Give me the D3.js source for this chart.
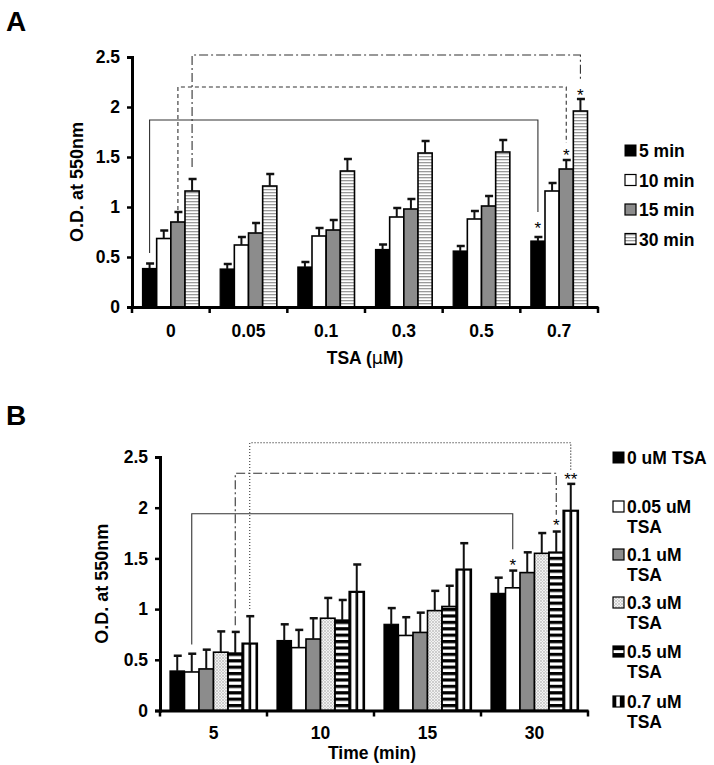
<!DOCTYPE html>
<html><head><meta charset="utf-8">
<script src="https://cdn.jsdelivr.net/npm/d3@7/dist/d3.min.js"></script>
<style>
html,body{margin:0;padding:0;background:#fff;}
svg text{font-family:"Liberation Sans",Arial,sans-serif;}
</style>
</head><body>
<svg id="chart" width="714" height="765"></svg>
<script>
// ---------- DATA ----------
const yTicks = [0, 0.5, 1, 1.5, 2, 2.5];

// Panel A
const aCategories = ["0", "0.05", "0.1", "0.3", "0.5", "0.7"];
const aSeries = ["5 min", "10 min", "15 min", "30 min"];
const aVal5  = [0.385, 0.38, 0.40, 0.575, 0.56, 0.66];
const aVal10 = [0.685, 0.62, 0.71, 0.90, 0.88, 1.16];
const aVal15 = [0.85, 0.74, 0.77, 0.98, 1.01, 1.38];
const aVal30 = [1.16, 1.21, 1.36, 1.54, 1.55, 1.96];
const aErr5  = [0.05, 0.05, 0.05, 0.05, 0.05, 0.04];
const aErr10 = [0.08, 0.08, 0.08, 0.09, 0.08, 0.08];
const aErr15 = [0.10, 0.10, 0.10, 0.10, 0.10, 0.09];
const aErr30 = [0.12, 0.12, 0.12, 0.12, 0.12, 0.12];
// brackets: [series index, from category, to category, top value, left bottom, right bottom]
const aBrackets = [
  [0, 0, 5, 1.87, 0.54, 0.95],
  [2, 0, 5, 2.20, 0.97, 1.64],
  [3, 0, 5, 2.52, 1.40, 2.27]
];
// stars: [category, series, value, label]
const aStars = [[5, 0, 0.82, "*"], [5, 2, 1.55, "*"], [5, 3, 2.15, "*"]];

// Panel B
const bCategories = ["5", "10", "15", "30"];
const bSeries = ["0 uM TSA", "0.05 uM TSA", "0.1 uM TSA", "0.3 uM TSA", "0.5 uM TSA", "0.7 uM TSA"];
const bVal0   = [0.39, 0.69, 0.85, 1.155];
const bVal005 = [0.38, 0.62, 0.74, 1.21];
const bVal01  = [0.41, 0.705, 0.77, 1.36];
const bVal03  = [0.575, 0.91, 0.985, 1.55];
const bVal05  = [0.565, 0.89, 1.025, 1.56];
const bVal07  = [0.66, 1.17, 1.39, 1.97];
const bErr0   = [0.15, 0.16, 0.16, 0.155];
const bErr005 = [0.18, 0.175, 0.18, 0.17];
const bErr01  = [0.19, 0.205, 0.195, 0.20];
const bErr03  = [0.205, 0.20, 0.195, 0.20];
const bErr05  = [0.21, 0.20, 0.205, 0.205];
const bErr07  = [0.27, 0.27, 0.26, 0.265];
const bBrackets = [
  [1, 0, 3, 1.94, 0.65, 1.59],
  [4, 0, 3, 2.34, 0.84, 1.93],
  [5, 0, 3, 2.64, 1.00, 2.37]
];
const bStars = [[3, 1, 1.46, "*"], [3, 4, 1.86, "*"], [3, 5, 2.31, "**"]];

// ---------- DRAWING ----------
const svg = d3.select("#chart");
const defs = svg.append("defs");

// light horizontal stripes (A 30 min)
const p1 = defs.append("pattern").attr("id","hLight").attr("patternUnits","userSpaceOnUse")
  .attr("width",4).attr("height",3);
p1.append("rect").attr("width",4).attr("height",3).attr("fill","#fff");
p1.append("rect").attr("y",0).attr("width",4).attr("height",1.3).attr("fill","#9a9a9a");
// dotted (B 0.3)
const p2 = defs.append("pattern").attr("id","dots").attr("patternUnits","userSpaceOnUse")
  .attr("width",3).attr("height",3);
p2.append("rect").attr("width",3).attr("height",3).attr("fill","#f2f2f2");
p2.append("circle").attr("cx",1).attr("cy",1).attr("r",0.75).attr("fill","#999");
p2.append("circle").attr("cx",2.5).attr("cy",2.5).attr("r",0.5).attr("fill","#bbb");
// bold horizontal stripes (B 0.5)
const p3 = defs.append("pattern").attr("id","hBold").attr("patternUnits","userSpaceOnUse")
  .attr("width",6).attr("height",6.4);
p3.append("rect").attr("width",6).attr("height",6.4).attr("fill","#fff");
p3.append("rect").attr("y",0).attr("width",6).attr("height",3.2).attr("fill","#000");
// vertical stripes (B 0.7)
const p4 = defs.append("pattern").attr("id","vStripe").attr("patternUnits","objectBoundingBox")
  .attr("patternContentUnits","objectBoundingBox").attr("width",1).attr("height",1);
p4.append("rect").attr("width",1).attr("height",1).attr("fill","#fff");
p4.append("rect").attr("x",0).attr("width",0.12).attr("height",1).attr("fill","#000");
p4.append("rect").attr("x",0.42).attr("width",0.18).attr("height",1).attr("fill","#000");
p4.append("rect").attr("x",0.9).attr("width",0.1).attr("height",1).attr("fill","#000");
// legend swatch for 0.5 (black frame, white middle line)
const p5 = defs.append("pattern").attr("id","hBoldLeg").attr("patternUnits","objectBoundingBox")
  .attr("patternContentUnits","objectBoundingBox").attr("width",1).attr("height",1);
p5.append("rect").attr("width",1).attr("height",1).attr("fill","#000");
p5.append("rect").attr("y",0.38).attr("width",1).attr("height",0.26).attr("fill","#fff");
// legend swatch for 0.7
const p6 = defs.append("pattern").attr("id","vStripeLeg").attr("patternUnits","objectBoundingBox")
  .attr("patternContentUnits","objectBoundingBox").attr("width",1).attr("height",1);
p6.append("rect").attr("width",1).attr("height",1).attr("fill","#000");
p6.append("rect").attr("x",0.3).attr("width",0.32).attr("height",1).attr("fill","#fff");

function drawPanel(cfg) {
  const g = svg.append("g");
  const y = d3.scaleLinear().domain([0, 2.5]).range([cfg.y0, cfg.y25]);
  const x0 = d3.scaleBand().domain(cfg.categories).range([cfg.xLeft, cfg.xRight]).padding(0);
  const x1 = d3.scaleBand().domain(d3.range(cfg.series.length))
    .range([cfg.groupPad, x0.bandwidth() - cfg.groupPad]).padding(0);

  // bars
  cfg.categories.forEach((c, ci) => {
    cfg.values.forEach((vals, si) => {
      const bx = x0(c) + x1(si), bw = x1.bandwidth(), v = vals[ci];
      g.append("rect").attr("x", bx).attr("y", y(v)).attr("width", bw).attr("height", y(0) - y(v))
        .attr("fill", cfg.fills[si]).attr("stroke", "#000").attr("stroke-width", cfg.barStroke[si]);
      // error bar
      const cx = bx + bw / 2, top = y(v + cfg.errors[si][ci]);
      g.append("line").attr("x1", cx).attr("x2", cx).attr("y1", y(v)).attr("y2", top)
        .attr("stroke", "#111").attr("stroke-width", 2);
      g.append("line").attr("x1", cx - 3.5).attr("x2", cx + 4.5).attr("y1", top).attr("y2", top)
        .attr("stroke", "#111").attr("stroke-width", 2.5);
    });
  });

  // brackets
  const dashes = cfg.dashes;
  cfg.brackets.forEach((b, i) => {
    const [si, c1, c2, topV, lo1, lo2] = b;
    const xa = x0(cfg.categories[c1]) + x1(si) + x1.bandwidth() / 2;
    const xb = x0(cfg.categories[c2]) + x1(si) + x1.bandwidth() / 2;
    const path = d3.path();
    path.moveTo(xa, y(lo1)); path.lineTo(xa, y(topV)); path.lineTo(xb, y(topV)); path.lineTo(xb, y(lo2));
    g.append("path").attr("d", path.toString()).attr("fill", "none")
      .attr("stroke", "#333").attr("stroke-width", 1.1).attr("stroke-dasharray", dashes[i]);
  });

  // stars
  cfg.stars.forEach(s => {
    const [ci, si, v, t] = s;
    const cx = x0(cfg.categories[ci]) + x1(si) + x1.bandwidth() / 2;
    g.append("text").attr("x", cx).attr("y", y(v) + 9).attr("text-anchor", "middle")
      .attr("font-size", 17).attr("fill", "#000").text(t);
  });

  // y axis
  const ya = g.append("g").attr("transform", `translate(${cfg.xLeft},0)`)
    .call(d3.axisLeft(y).tickValues(yTicks).tickSize(5).tickPadding(7).tickFormat(d3.format("")));
  ya.select(".domain").attr("stroke", "#000").attr("stroke-width", 3);
  ya.selectAll(".tick line").attr("stroke", "#000").attr("stroke-width", 2.5);
  ya.selectAll(".tick text").attr("font-size", 17.5).attr("font-weight", "bold").attr("fill", "#000")
    .attr("font-family", "Liberation Sans, Arial, sans-serif");

  // x axis
  const xa = g.append("g").attr("transform", `translate(0,${cfg.y0})`)
    .call(d3.axisBottom(x0).tickSize(0).tickPadding(cfg.xLabelPad));
  xa.select(".domain").attr("stroke", "#000").attr("stroke-width", 3);
  xa.selectAll(".tick text").attr("font-size", 17.5).attr("font-weight", "bold").attr("fill", "#000")
    .attr("font-family", "Liberation Sans, Arial, sans-serif");
  const seps = cfg.categories.map(c => x0(c)).concat([x0.range()[1]]);
  seps.forEach(sx => {
    xa.append("line").attr("x1", sx).attr("x2", sx).attr("y1", 0).attr("y2", 6)
      .attr("stroke", "#000").attr("stroke-width", 2.5);
  });

  // axis titles
  g.append("text").attr("x", (cfg.xLeft + cfg.xRight) / 2 + cfg.xTitleShift).attr("y", cfg.xTitleY)
    .attr("text-anchor", "middle").attr("font-size", 17.5).attr("font-weight", "bold").html(cfg.xTitle);
  g.append("text").attr("transform", `translate(${cfg.yTitleX},${(cfg.y0 + cfg.y25) / 2}) rotate(-90)`)
    .attr("text-anchor", "middle").attr("font-size", 18).attr("font-weight", "bold").text("O.D. at 550nm");

  // panel letter
  g.append("text").attr("x", cfg.letterX).attr("y", cfg.letterY).attr("font-size", 28)
    .attr("font-weight", "bold").text(cfg.letter);

  // legend
  cfg.series.forEach((s, si) => {
    const ly = cfg.legendY[si];
    g.append("rect").attr("x", cfg.legendX).attr("y", ly - 6).attr("width", 11).attr("height", 11)
      .attr("fill", cfg.legendFills[si]).attr("stroke", "#000").attr("stroke-width", cfg.legendStroke[si]);
    const lines = cfg.legendLines(s);
    lines.forEach((ln, li) => {
      g.append("text").attr("x", cfg.legendX + 14).attr("y", ly + 6 + li * 20)
        .attr("font-size", 17.5).attr("font-weight", "bold").text(ln);
    });
  });
}

drawPanel({
  letter: "A", letterX: 6, letterY: 31,
  categories: aCategories, series: aSeries,
  values: [aVal5, aVal10, aVal15, aVal30],
  errors: [aErr5, aErr10, aErr15, aErr30],
  fills: ["#000", "#fff", "#8c8c8c", "url(#hLight)"],
  legendFills: ["#000", "#fff", "#8c8c8c", "url(#hLight)"],
  barStroke: [1.2, 1.6, 1.6, 1.6],
  legendStroke: [1, 1.2, 1.2, 1.2],
  brackets: aBrackets, stars: aStars,
  dashes: [null, "4,3", "9,3,2,3"],
  y0: 307, y25: 57, xLeft: 132, xRight: 598, groupPad: 10.5,
  xLabelPad: 18, xTitle: "TSA (<tspan font-family='DejaVu Sans' font-weight='normal'>μ</tspan>M)", xTitleY: 364, xTitleShift: 0,
  yTitleX: 83,
  legendX: 625, legendY: [151, 180.5, 210, 239.5],
  legendLines: s => [s]
});

drawPanel({
  letter: "B", letterX: 6, letterY: 425,
  categories: bCategories, series: bSeries,
  values: [bVal0, bVal005, bVal01, bVal03, bVal05, bVal07],
  errors: [bErr0, bErr005, bErr01, bErr03, bErr05, bErr07],
  fills: ["#000", "#fff", "#8c8c8c", "url(#dots)", "url(#hBold)", "url(#vStripe)"],
  legendFills: ["#000", "#fff", "#8c8c8c", "url(#dots)", "url(#hBoldLeg)", "url(#vStripeLeg)"],
  barStroke: [1.2, 1.6, 1.6, 1.6, 1.8, 2.2],
  legendStroke: [1, 1.2, 1.2, 1.2, 1.2, 1.2],
  brackets: bBrackets, stars: bStars,
  dashes: [null, "9,3,2,3", "1.2,1.8"],
  y0: 710.5, y25: 457, xLeft: 160, xRight: 588, groupPad: 10,
  xLabelPad: 16, xTitle: "Time (min)", xTitleY: 759, xTitleShift: -2,
  yTitleX: 108,
  legendX: 613, legendY: [458, 507, 555, 603, 652, 702],
  legendLines: s => s === "0 uM TSA" ? [s] : [s.replace(" TSA", ""), "TSA"]
});
</script>
</body></html>
